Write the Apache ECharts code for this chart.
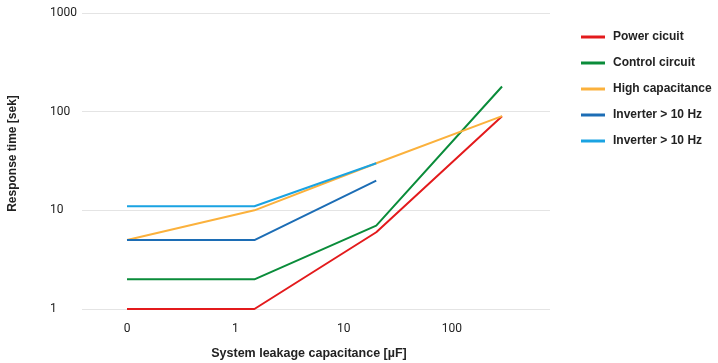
<!DOCTYPE html>
<html>
<head>
<meta charset="utf-8">
<script src="https://cdn.jsdelivr.net/npm/echarts@6/dist/echarts.min.js"></script>
<style>
  html, body { margin: 0; padding: 0; background: #fff; }
  #chart { width: 718px; height: 363px; }
</style>
</head>
<body>
<div id="chart"></div>
<script>
// capacitance in µF ("0" is drawn at the 0.1 position of the log axis)
const capacitance = [0.1, 1.5, 20, 290];
const xTicks = [0.1, 1, 10, 100];
const yTicks = [1, 10, 100, 1000];

const seriesNames = ['Power cicuit', 'Control circuit', 'High capacitance', 'Inverter > 10 Hz', 'Inverter > 10 Hz'];
const powerCircuit = [1, 1, 6, 90];
const controlCircuit = [2, 2, 7, 180];
const highCapacitance = [5, 10, 30, 90];
const inverterA = [5, 5, 20];
const inverterB = [11, 11, 30];

const colors = ['#e31a1c', '#0a8c3a', '#fbb13c', '#1c6db5', '#1aa3e2'];

function pairs (vals) {
  let out = [];
  for (let i = 0; i < vals.length; i++) {
    out.push([capacitance[i], vals[i]]);
  }
  return out;
}

const allData = [powerCircuit, controlCircuit, highCapacitance, inverterA, inverterB];
let theseries = [];
for (let i = 0; i < allData.length; i++) {
  theseries.push({
    // second inverter gets a trailing space so the legend keeps both entries
    name: seriesNames[i] + (i === 4 ? ' ' : ''),
    type: 'line',
    symbol: 'none',
    lineStyle: { width: 2 },
    data: pairs(allData[i])
  });
}

let myChart = echarts.init(document.getElementById('chart'));
myChart.setOption({
  animation: false,
  color: colors,
  grid: { left: 82, right: 168, top: 13, bottom: 54, outerBoundsMode: 'none' },
  legend: {
    orient: 'vertical',
    left: 581,
    top: 31,
    padding: 0,
    icon: 'rect',
    itemWidth: 24,
    itemHeight: 3,
    itemGap: 14,
    formatter: function (n) { return n.trim(); },
    textStyle: { fontFamily: 'Liberation Sans', fontWeight: 'bold', fontSize: 12, color: '#222', padding: [0, 0, 0, 3] }
  },
  xAxis: {
    type: 'log',
    logBase: 10,
    min: 0.0384,
    max: 804,
    name: 'System leakage capacitance [µF]',
    nameLocation: 'middle',
    nameGap: 38,
    nameTextStyle: { fontFamily: 'Liberation Sans', fontWeight: 'bold', fontSize: 12.5, color: '#222', padding: [0, 14, 0, 0] },
    axisLine: { show: false },
    axisTick: { show: false },
    splitLine: { show: false },
    axisLabel: {
      customValues: xTicks,
      margin: 14,
      fontFamily: 'Roboto',
      fontSize: 12,
      color: '#222',
      formatter: function (v) { return v < 1 ? '0' : String(Math.round(v)); }
    }
  },
  yAxis: {
    type: 'log',
    logBase: 10,
    min: 1,
    max: 1000,
    name: 'Response time [sek]',
    nameLocation: 'middle',
    nameGap: 63,
    nameRotate: 90,
    nameTextStyle: { fontFamily: 'Liberation Sans', fontWeight: 'bold', fontSize: 12, color: '#222', padding: [0, 0, 0, 15] },
    axisLine: { show: false },
    axisTick: { show: false },
    splitLine: { lineStyle: { color: '#e4e4e4', width: 1 } },
    axisLabel: {
      customValues: yTicks,
      align: 'left',
      margin: 32,
      fontFamily: 'Roboto',
      fontSize: 12,
      color: '#222',
      formatter: function (v) { return String(Math.round(v)); }
    }
  },
  series: theseries
});
</script>
</body>
</html>
